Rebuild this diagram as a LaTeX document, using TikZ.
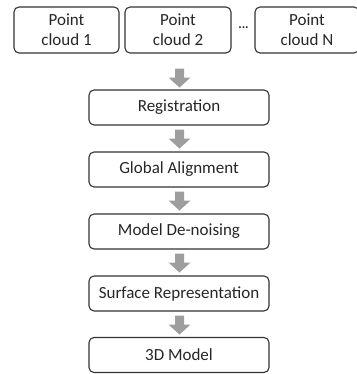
\documentclass[tikz,border=0pt]{standalone}
\usepackage{fontspec}
\setmainfont{Carlito}
\usetikzlibrary{calc}
\begin{document}
\begin{tikzpicture}[x=1pt,y=-1pt,
  box/.style={draw=black!80,line width=1.1pt,rounded corners=5pt,inner sep=0pt,font=\fontsize{17}{20}\selectfont,text=black!85,align=center},
  garrow/.style={fill=black!38,draw=none}]
\useasboundingbox (0,0) rectangle (356,374);
\node[box,minimum width=105,minimum height=46] (p1) at (66.5,30) {Point\\cloud 1};
\node[box,minimum width=106,minimum height=46] (p2) at (178,30) {Point\\cloud 2};
\node[box,minimum width=104,minimum height=46] (pn) at (307,30) {Point\\cloud N};
\node[font=\bfseries\fontsize{13}{13}\selectfont,inner sep=0pt,text=black!85] (dots) at (243.5,28) {...};
\node[box,minimum width=180,minimum height=35] (r) at (179,107.5) {Registration};
\node[box,minimum width=180,minimum height=35] (g) at (179,169.5) {Global Alignment};
\node[box,minimum width=180,minimum height=35] (m) at (179,231.5) {Model De-noising};
\node[box,minimum width=180,minimum height=35] (s) at (179,293.5) {Surface Representation};
\node[box,minimum width=180,minimum height=35] (d) at (179,355) {3D Model};
\coordinate (a1) at ($(p2.south)+(1.5,15)$);
\coordinate (a2) at ($(r.south)+(0.5,4)$);
\coordinate (a3) at ($(g.south)+(0.5,4)$);
\coordinate (a4) at ($(m.south)+(0.5,4)$);
\coordinate (a5) at ($(s.south)+(0.5,4)$);
\foreach \n in {a1,a2,a3,a4,a5}{
  \fill[garrow] ($(\n)+(-4.5,0)$) -- ($(\n)+(4.5,0)$) -- ($(\n)+(4.5,9)$) -- ($(\n)+(11,9)$) -- ($(\n)+(0,19)$) -- ($(\n)+(-11,9)$) -- ($(\n)+(-4.5,9)$) -- cycle;
}
\end{tikzpicture}
\end{document}
